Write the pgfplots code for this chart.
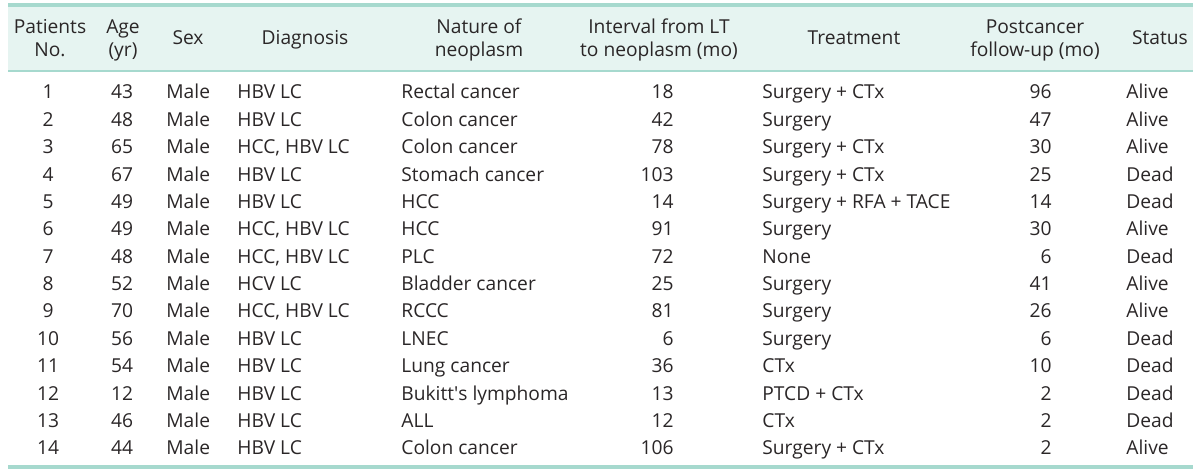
\documentclass[border=0pt]{standalone}
\usepackage{fontspec}
\setmainfont{Open Sans}
\usepackage{pgfplots}
\usepackage{pgfplotstable}
\pgfplotsset{compat=1.18}
\definecolor{rulec}{HTML}{A6D9CE}
\definecolor{hdr}{HTML}{E6F4F1}
\definecolor{txt}{HTML}{2A2627}

\pgfplotstableread[col sep=semicolon,row sep=\\]{
py;no;age;sex;diag;nat;int;trt;fu;st\\
99;1;43;Male;HBV LC;Rectal cancer;18;Surgery + CTx;96;Alive\\
126.4;2;48;Male;HBV LC;Colon cancer;42;Surgery;47;Alive\\
153.8;3;65;Male;HCC, HBV LC;Colon cancer;78;Surgery + CTx;30;Alive\\
181.1;4;67;Male;HBV LC;Stomach cancer;103;Surgery + CTx;25;Dead\\
208.5;5;49;Male;HBV LC;HCC;14;Surgery + RFA + TACE;14;Dead\\
235.9;6;49;Male;HCC, HBV LC;HCC;91;Surgery;30;Alive\\
263.3;7;48;Male;HCC, HBV LC;PLC;72;None;6;Dead\\
290.7;8;52;Male;HCV LC;Bladder cancer;25;Surgery;41;Alive\\
318.0;9;70;Male;HCC, HBV LC;RCCC;81;Surgery;26;Alive\\
345.4;10;56;Male;HBV LC;LNEC;6;Surgery;6;Dead\\
372.8;11;54;Male;HBV LC;Lung cancer;36;CTx;10;Dead\\
400.2;12;12;Male;HBV LC;Bukitt\textquotesingle s lymphoma;13;PTCD + CTx;2;Dead\\
427.6;13;46;Male;HBV LC;ALL;12;CTx;2;Dead\\
455.0;14;44;Male;HBV LC;Colon cancer;106;Surgery + CTx;2;Alive\\
}\data

\pgfplotstableread[col sep=semicolon,row sep=\\]{
x;y;lab\\
50;34;Patients\\
50;57;No.\\
123;34;Age\\
123;57;(yr)\\
188;45;Sex\\
305;45;Diagnosis\\
479;34;Nature of\\
479;57;neoplasm\\
659;34;Interval from LT\\
659;57;to neoplasm (mo)\\
854;45;Treatment\\
1035;34;Postcancer\\
1035;57;follow-up (mo)\\
1160;45;Status\\
}\header

\pgfplotsset{
  txtcol/.style={draw=none, mark=none, nodes near coords, point meta=explicit symbolic,
    nodes near coords align={anchor=#1},
    every node near coord/.append style={anchor=#1, inner sep=0pt, text=txt,
      font=\fontsize{9.6pt}{11pt}\selectfont}},
}

\begin{document}
\begin{tikzpicture}
\begin{axis}[hide axis, scale only axis, width=600pt, height=237.5pt,
  xmin=0, xmax=1200, ymin=0, ymax=475, y dir=reverse, clip=false]
\addplot[draw=none, mark=none] coordinates {(0,0) (1200,475)};
\addplot[fill=hdr, draw=none] coordinates {(8,5) (1193,5) (1193,71) (8,71)};
\addplot[rulec, line width=2pt] coordinates {(8,5) (1193,5)};
\addplot[rulec, line width=0.75pt] coordinates {(8,71) (1193,71)};
\addplot[rulec, line width=2pt] coordinates {(8,467) (1193,467)};

\addplot[txtcol=base] table[x=x, y=y, meta=lab] {\header};

\addplot[txtcol=base] table[x expr=48, y=py, meta=no] {\data};
\addplot[txtcol=base] table[x expr=122, y=py, meta=age] {\data};
\addplot[txtcol=base west] table[x expr=166, y=py, meta=sex] {\data};
\addplot[txtcol=base west] table[x expr=237, y=py, meta=diag] {\data};
\addplot[txtcol=base west] table[x expr=401, y=py, meta=nat] {\data};
\addplot[txtcol=base east] table[x expr=674, y=py, meta=int] {\data};
\addplot[txtcol=base west] table[x expr=762, y=py, meta=trt] {\data};
\addplot[txtcol=base east] table[x expr=1052, y=py, meta=fu] {\data};
\addplot[txtcol=base west] table[x expr=1126, y=py, meta=st] {\data};
\end{axis}
\end{tikzpicture}
\end{document}
